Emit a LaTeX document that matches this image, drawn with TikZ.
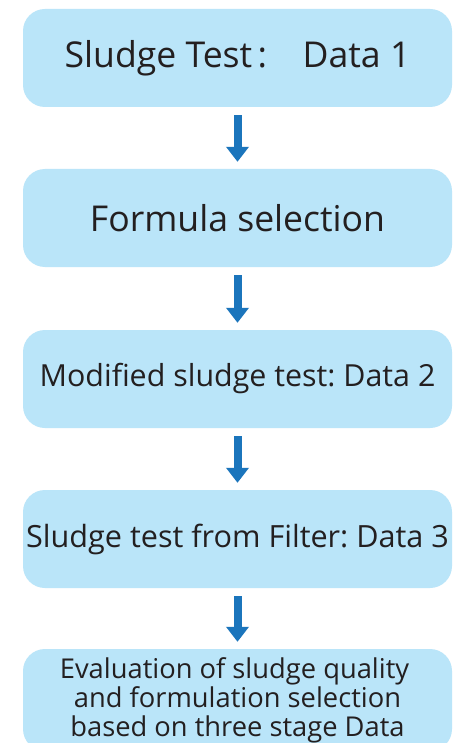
\documentclass[tikz,border=0pt]{standalone}
\usepackage{fontspec}
\setmainfont{Open Sans}
\usetikzlibrary{arrows.meta}
\definecolor{boxfill}{HTML}{BAE5F9}
\definecolor{txt}{HTML}{231F20}
\definecolor{arr}{HTML}{1B75BC}
\frenchspacing
\tikzset{
  flowbox/.style={fill=boxfill, draw=none, rounded corners=22pt, minimum width=429pt, minimum height=98pt, inner sep=0pt, text=txt, align=center},
  flowarrow/.style={draw=arr, line width=8pt, -{Triangle[width=22pt,length=15pt]}, arr, shorten <=8pt, shorten >=7pt}
}
\begin{document}
\begin{tikzpicture}[x=1pt,y=1pt]
\useasboundingbox (0,0) rectangle (460,-743);
\clip (0,0) rectangle (460,-743);
\fill[white] (0,0) rectangle (460,-743);
\node[flowbox, font=\fontsize{35.6}{42}\selectfont] (b1) at (237.5,-58) {Sludge Test\hspace{0.15em}:\hspace{1.0em}Data 1};
\node[flowbox, font=\fontsize{35.6}{42}\selectfont] (b2) at (237.5,-218) {Formula selection};
\node[flowbox, font=\fontsize{30.4}{35}\selectfont] (b3) at (237.5,-379) {Modified sludge test: Data 2};
\node[flowbox, font=\fontsize{30.6}{35}\selectfont] (b4) at (237.5,-539) {Sludge test from Filter: Data 3};
\node[flowbox, minimum height=102pt, font=\fontsize{27.3}{29}\selectfont] (b5) at (237.5,-700) {\hspace*{-6pt}Evaluation of sludge quality\\and formulation selection\\based on three stage Data};
\draw[flowarrow] (b1.south) -- (b2.north);
\draw[flowarrow] (b2.south) -- (b3.north);
\draw[flowarrow] (b3.south) -- (b4.north);
\draw[flowarrow] (b4.south) -- (b5.north);
\end{tikzpicture}
\end{document}
